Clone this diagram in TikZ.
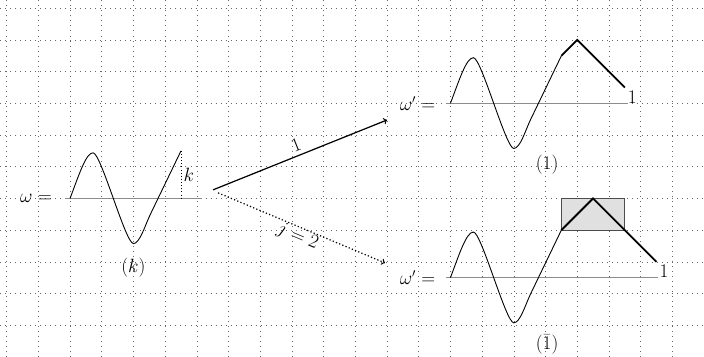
\documentclass[tikz,border=0pt]{standalone}
\usetikzlibrary{calc}

\def\wave{(0,0) .. controls (0.55,1.45) and (1.0,2.88) .. (1.45,2.88)
  .. controls (1.95,2.88) and (3.5,-2.85) .. (4,-2.85)
  .. controls (4.4,-2.85) and (4.75,-1.66) .. (5.05,-1.04) -- (7,3)}

\begin{document}
\begin{tikzpicture}[x=0.5cm,y=0.5cm,
    every node/.style={font=\fontsize{16}{19}\selectfont},
    gridline/.style={black!60,line width=0.5pt,dash pattern=on 0.5pt off 4pt},
    axis/.style={black!45,line width=1.1pt},
    wavepart/.style={line width=0.8pt},
    wavecut/.style={line width=1.6pt},
    box/.style={draw=black!70,fill=black!12,line width=0.8pt}]
  \useasboundingbox (-4.42,-10) rectangle (40,12.52);
  \draw[gridline] (-4.42,-10) grid (40,12.52);

  % omega with the cut k
  \draw[axis] (-0.3,0) -- (8.3,0);
  \draw[wavepart] \wave;
  \draw[dotted,line width=0.8pt] (7,3) -- (7,0) node[midway,right,inner sep=2pt] (k) {$k$};
  \node[anchor=east,inner sep=2pt] (w) at (-1,0) {$\omega =$};
  \node (lk) at (4,-4.4) {$(k)$};

  % move 1
  \begin{scope}[shift={(24,6)}]
    \draw[axis] (-0.3,0) -- (11.2,0);
    \draw[wavepart] \wave;
    \draw[wavecut] (7,3) -- (8,4) -- (11,1) node[anchor=north west,inner sep=2pt] (e1) {$1$};
    \node[anchor=east,inner sep=2pt] (w1) at (-0.8,0) {$\omega' =$};
    \node (l1) at (6.1,-3.88) {$(1)$};
  \end{scope}

  % move 1bar
  \begin{scope}[shift={(24,-5)}]
    \draw[axis] (-0.3,0) -- (13.1,0);
    \draw[box] (7,3) rectangle (11,5);
    \draw[wavepart] \wave;
    \draw[wavecut] (7,3) -- (9,5) -- (11,3) -- (13,1) node[anchor=north west,inner sep=2pt] (e2) {$1$};
    \node[anchor=east,inner sep=2pt] (w2) at (-0.8,0) {$\omega' =$};
    \node (l2) at (6.1,-4.2) {$(\bar{1})$};
  \end{scope}

  \coordinate (a0) at (9.02,0.54);
  \coordinate (a1) at (20,4.95);
  \coordinate (b0) at (9.34,0.35);
  \coordinate (b1) at (19.87,-4.07);
  \draw[->,line width=1.1pt] (a0) -- node[above,sloped] (m1) {$1$} (a1);
  \draw[->,dotted,line width=1.1pt] (b0) -- node[below,sloped,inner sep=1pt] (m2) {$j=2$} (b1);
\end{tikzpicture}
\end{document}
